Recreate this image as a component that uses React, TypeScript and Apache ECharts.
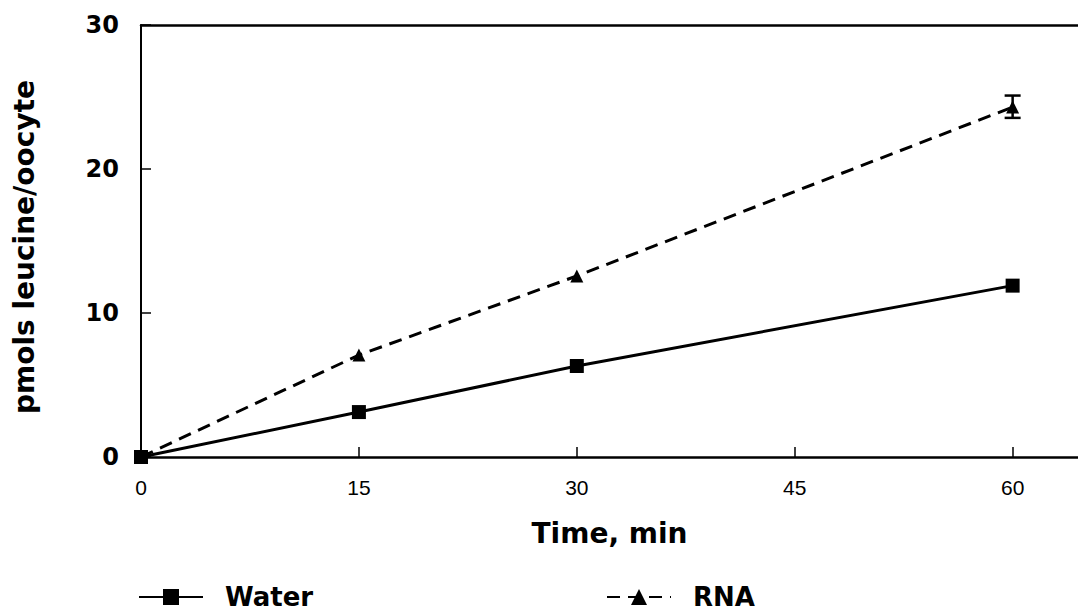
import React, { useEffect, useRef } from "react";
import * as echarts from "echarts";

const times = [0, 15, 30, 60];
const water = [0, 3.12, 6.32, 11.9];
const rna = [0, 7.08, 12.57, 24.3];
const rnaErrLow = [null, null, null, 23.55];
const rnaErrHigh = [null, null, null, 25.1];
const xTicks = [0, 15, 30, 45, 60];
const yTicks = [0, 10, 20, 30];

const BOLD = "DejaVu Sans";
const REG = "Liberation Sans";

export default function App() {
  const ref = useRef<HTMLDivElement>(null);
  useEffect(() => {
    if (!ref.current) return;
    const chart = echarts.init(ref.current, null, { renderer: "svg" });
    const errData = times
      .map((t, i) => (rnaErrLow[i] != null ? [t, rnaErrLow[i], rnaErrHigh[i]] : null))
      .filter((d) => d !== null);
    const legendText = { fontFamily: BOLD, fontWeight: "bold", fontSize: 26, color: "#000", padding: [0, 0, 0, 17] };
    chart.setOption({
      animation: false,
      backgroundColor: "#fff",
      grid: { left: 141, right: 0, top: 25, bottom: 154, containLabel: false },
      legend: [
        {
          data: ["Water"],
          left: 138,
          top: 584,
          padding: 0,
          itemWidth: 64,
          itemHeight: 20,
          textStyle: legendText,
        },
        {
          data: ["RNA"],
          left: 606,
          top: 584,
          padding: 0,
          itemWidth: 64,
          itemHeight: 20,
          textStyle: legendText,
        },
      ],
      xAxis: [
        {
          type: "value",
          min: 0,
          max: 64.5,
          interval: 15,
          position: "bottom",
          name: "Time, min",
          nameLocation: "middle",
          nameGap: 62,
          nameTextStyle: { fontFamily: BOLD, fontWeight: "bold", fontSize: 28, color: "#000" },
          axisLine: { onZero: false, lineStyle: { color: "#000", width: 2.5 } },
          axisTick: { inside: true, length: 10, lineStyle: { color: "#000", width: 1.5 } },
          axisLabel: {
            margin: 20,
            fontFamily: REG,
            fontSize: 21,
            color: "#000",
            showMaxLabel: false,
            formatter: (v: number) => (xTicks.includes(v) ? String(v) : ""),
          },
          splitLine: { show: false },
        },
        {
          type: "value",
          min: 0,
          max: 64.5,
          position: "top",
          axisLine: { onZero: false, lineStyle: { color: "#000", width: 2.5 } },
          axisTick: { show: false },
          axisLabel: { show: false },
          splitLine: { show: false },
        },
      ],
      yAxis: {
        type: "value",
        min: 0,
        max: 30,
        interval: 10,
        name: "pmols leucine/oocyte",
        nameLocation: "middle",
        nameGap: 103,
        nameTextStyle: { fontFamily: BOLD, fontWeight: "bold", fontSize: 28, color: "#000", padding: [0, 12, 0, 0] },
        axisLine: { show: true, lineStyle: { color: "#000", width: 2 } },
        axisTick: { inside: true, length: 10, lineStyle: { color: "#000", width: 1.5 } },
        axisLabel: {
          margin: 22,
          fontFamily: BOLD,
          fontWeight: "bold",
          fontSize: 24,
          color: "#000",
          formatter: (v: number) => (yTicks.includes(v) ? String(v) : ""),
        },
        splitLine: { show: false },
      },
      series: [
        {
          name: "Water",
          type: "line",
          data: times.map((t, i) => [t, water[i]]),
          symbol: "rect",
          symbolSize: 14,
          itemStyle: { color: "#000" },
          lineStyle: { color: "#000", width: 3, type: "solid" },
          z: 3,
        },
        {
          name: "RNA",
          type: "line",
          data: times.map((t, i) => [t, rna[i]]),
          symbol: "triangle",
          symbolSize: 13,
          itemStyle: { color: "#000" },
          lineStyle: { color: "#000", width: 3, type: [13, 8] },
          z: 3,
        },
        {
          name: "RNA error",
          type: "custom",
          data: errData,
          renderItem: (params: any, api: any) => {
            const x = api.value(0);
            const lo = api.coord([x, api.value(1)]);
            const hi = api.coord([x, api.value(2)]);
            const w = 8;
            const style = { stroke: "#000", lineWidth: 2.5 };
            return {
              type: "group",
              children: [
                { type: "line", shape: { x1: lo[0], y1: lo[1], x2: hi[0], y2: hi[1] }, style },
                { type: "line", shape: { x1: lo[0] - w, y1: lo[1], x2: lo[0] + w, y2: lo[1] }, style },
                { type: "line", shape: { x1: hi[0] - w, y1: hi[1], x2: hi[0] + w, y2: hi[1] }, style },
              ],
            };
          },
          z: 2,
        },
      ],
    });
    return () => chart.dispose();
  }, []);
  return <div ref={ref} style={{ width: 1078, height: 611, position: "absolute", left: 0, top: 0 }} />;
}
